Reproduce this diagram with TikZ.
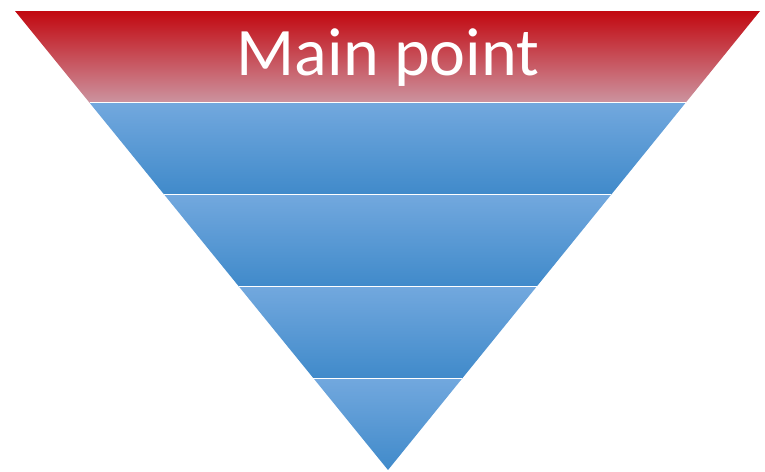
\documentclass[tikz,border=0pt]{standalone}
\usepackage{fontspec}
\setmainfont{Carlito}
\definecolor{redtop}{RGB}{194,8,16}
\definecolor{redmid}{RGB}{218,108,122}
\definecolor{redbot}{RGB}{204,148,160}
\definecolor{bluetop}{RGB}{114,168,222}
\definecolor{bluemid}{RGB}{84,152,218}
\definecolor{bluebot}{RGB}{64,138,202}
\tikzset{
  redband/.style={top color=redtop, middle color=redmid, bottom color=redbot},
  blueband/.style={top color=bluetop, middle color=bluemid, bottom color=bluebot},
  gap/.style={draw=white, line width=1pt},
  maintext/.style={text=white, font=\fontsize{68}{68}\selectfont, anchor=base}
}
\begin{document}
\begin{tikzpicture}[x=1pt,y=-1pt]
	\useasboundingbox (0,0) rectangle (765,471);
	\shade[redband](15,11) -- (760,11) -- (685.6,102.8) -- (89.6,102.8) -- cycle;
	\shade[blueband](89.6,102.8) -- (685.6,102.8) -- (611.2,194.6) -- (164.2,194.6) -- cycle;
	\shade[blueband](164.2,194.6) -- (611.2,194.6) -- (536.8,286.4) -- (238.8,286.4) -- cycle;
	\shade[blueband](238.8,286.4) -- (536.8,286.4) -- (462.4,378.2) -- (313.4,378.2) -- cycle;
	\shade[blueband](313.4,378.2) -- (462.4,378.2) -- (388,470) -- cycle;
	\draw[gap](89.6,102.8) -- (685.6,102.8);
	\draw[gap](164.2,194.6) -- (611.2,194.6);
	\draw[gap](238.8,286.4) -- (536.8,286.4);
	\draw[gap](313.4,378.2) -- (462.4,378.2);
	\node[maintext] (main) at (388,75) {Main point};
\end{tikzpicture}
\end{document}
